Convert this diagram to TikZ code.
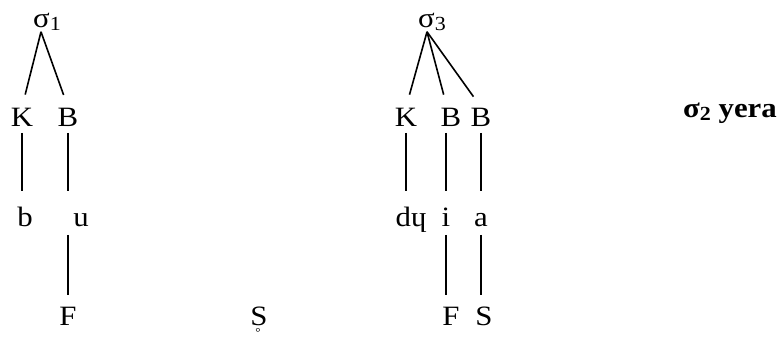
\documentclass[tikz,border=0pt]{standalone}
\usepackage{fontspec}
\setmainfont{Liberation Serif}[FakeStretch=1.1]
\usetikzlibrary{positioning}
\newcommand{\subdig}[1]{{\fontsize{10}{10}\selectfont\raisebox{-1.5pt}{#1}}}
\newcommand{\subring}[1]{\ooalign{#1\cr\hidewidth\raisebox{-5.8pt}{\fontsize{6}{6}\selectfont°}\kern1pt\hidewidth\cr}}

\begin{document}
\begin{tikzpicture}[x=0.5pt,y=-0.5pt,line width=0.8pt,
    every node/.style={font=\fontsize{14}{16}\selectfont,inner sep=0pt,anchor=base,text height=9pt,text depth=2pt},
    branch/.style={shorten >=6.5pt},
    stem/.style={shorten <=1pt,shorten >=8pt},
    foot/.style={shorten <=2pt,shorten >=5.5pt}]
    \useasboundingbox (0,0) rectangle (780,337);

    % erste Silbe
    \node (s1) at (47,27) {σ\subdig{1}};
    \node (K1) at (22,126) {K};
    \node (B1) at (68,126) {B};
    \node (b1) at (25,226) {b};
    \node (u1) at (81,226) {u};
    \node (F1) at (68,325) {F};

    \draw[branch] ([xshift=-3pt]s1.south) -- (K1.north);
    \draw[branch] ([xshift=-3pt]s1.south) -- (B1.north);
    \draw[stem] (K1.south) -- (K1.south |- b1.north);
    \draw[stem] (B1.south) -- (B1.south |- u1.north);
    \draw[foot] (F1.north |- u1.south) -- (F1.north);

    % zweite Silbe
    \node (S0) at (259,325) {\subring{S}};

    % dritte Silbe
    \node (s3) at (432,27) {σ\subdig{3}};
    \node (K2) at (406,126) {K};
    \node (B2) at (451,126) {B};
    \node (B3) at (481,126) {B};
    \node (d2) at (411,226) {dɥ};
    \node (i2) at (446,226) {i};
    \node (a2) at (481,226) {a};
    \node (F2) at (451,325) {F};
    \node (S2) at (484,325) {S};

    \draw[branch] ([xshift=-2.5pt]s3.south) -- (K2.north);
    \draw[branch] ([xshift=-2.5pt]s3.south) -- ([xshift=-2pt]B2.north);
    \draw[branch] ([xshift=-2.5pt]s3.south) -- (B3.north);
    \draw[stem] (K2.south) -- (K2.south |- d2.north);
    \draw[stem] (i2.north |- B2.south) -- (i2.north);
    \draw[stem] (a2.north |- B3.south) -- (a2.north);
    \draw[foot] (i2.south) -- (i2.south |- F2.north);
    \draw[foot] (a2.south) -- (a2.south |- S2.north);

    \node (lbl) at (730,117) {\bfseries σ\subdig{2} yera};
\end{tikzpicture}
\end{document}
